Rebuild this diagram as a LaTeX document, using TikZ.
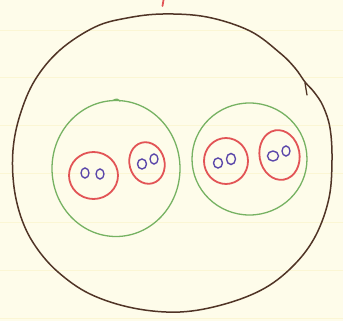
\documentclass[tikz,border=0pt]{standalone}
\begin{document}
\begin{tikzpicture}[x=1pt,y=-1pt,
  rule/.style={draw=rulecol,line width=0.7pt},
  outerc/.style={draw=browncol,line width=1.5pt},
  groupc/.style={draw=greencol,line width=1.3pt},
  cellc/.style={draw=redcol,line width=1.8pt},
  dotc/.style={draw=bluecol,line width=1.4pt}]
\definecolor{papercol}{RGB}{254,252,234}
\definecolor{rulecol}{RGB}{251,246,212}
\definecolor{browncol}{RGB}{80,52,38}
\definecolor{greencol}{RGB}{118,178,98}
\definecolor{redcol}{RGB}{226,84,86}
\definecolor{bluecol}{RGB}{92,72,170}
\useasboundingbox (0,0) rectangle (343,321);
\fill[papercol] (0,0) rectangle (343,321);
\foreach \yy in {30,77,125,173,222,270,318} \draw[rule] (0,\yy) -- (343,\yy);
% red tick at top
\draw[redcol,line width=1.8pt,line cap=round] (163.5,0) -- (162.5,6);
% outer circle
\draw[outerc] plot[smooth cycle,tension=0.6] coordinates {
 (163,14) (207,17) (250,31) (280,53) (295,68) (305,82) (314,92) (323,106) (330,128) (332,160) (329,198)
 (316,235) (295,264) (265,288) (225,304) (180,312) (133,308) (90,294)
 (58,272) (36,247) (22,220) (14,187) (13,150) (20,115) (35,80) (60,50)
 (95,27) (127,18)};
\draw[browncol,line width=1.3pt,line cap=round] (305,83) -- (307,95);
% green groups
\draw[groupc] (116,168.5) ellipse [x radius=64, y radius=68];
\draw[groupc,line cap=round] (113,100.5) .. controls (116,98.5) and (119,99) .. (120,101);
\draw[groupc] (249.5,159) ellipse [x radius=57.5, y radius=56];
% red cells
\draw[cellc] (93.5,175.5) ellipse [x radius=24.5, y radius=23.5];
\draw[cellc,rotate around={15:(147,163)}] (147,163) ellipse [x radius=17.5, y radius=21];
\draw[cellc] (226,161) ellipse [x radius=22, y radius=23];
\draw[cellc,rotate around={10:(279.5,155)}] (279.5,155) ellipse [x radius=20, y radius=25];
% blue dots
\draw[dotc] (85,173) ellipse [x radius=4, y radius=5];
\draw[dotc] (100,174) ellipse [x radius=4, y radius=5];
\draw[dotc] (142,164) ellipse [x radius=4.5, y radius=5];
\draw[dotc] (154,159) ellipse [x radius=4, y radius=5];
\draw[dotc] (218,163) ellipse [x radius=4.5, y radius=5];
\draw[dotc] (231,159) ellipse [x radius=4.5, y radius=5.5];
\draw[dotc] (273,156) ellipse [x radius=5.5, y radius=5];
\draw[dotc] (286,151) ellipse [x radius=4, y radius=5];
\end{tikzpicture}
\end{document}
